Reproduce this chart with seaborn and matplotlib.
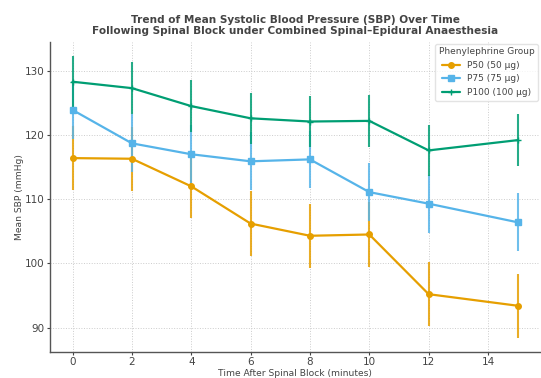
import numpy as np
import pandas as pd
import matplotlib
matplotlib.use("Agg")
import matplotlib.pyplot as plt
import seaborn as sns

# Mean SBP (mmHg) and SD-like error per time point
time_min = [0, 2, 4, 6, 8, 10, 12, 15]
groups = ["P50 (50 μg)", "P75 (75 μg)", "P100 (100 μg)"]
p50_mean = [116.4, 116.3, 112.0, 106.2, 104.3, 104.5, 95.2, 93.4]
p75_mean = [123.9, 118.7, 117.0, 115.9, 116.2, 111.1, 109.3, 106.4]
p100_mean = [128.3, 127.3, 124.5, 122.6, 122.1, 122.2, 117.6, 119.2]
p50_err = [5.0, 5.0, 5.0, 5.0, 5.0, 5.0, 5.0, 5.0]
p75_err = [4.5, 4.5, 4.5, 4.5, 4.5, 4.5, 4.5, 4.5]
p100_err = [4.0, 4.0, 4.0, 4.0, 4.0, 4.0, 4.0, 4.0]

colors = ["#E69F00", "#56B4E9", "#009E73"]
markers = ["o", "s", "+"]

sns.set_theme(style="ticks")
plt.rcParams["text.color"] = "#444444"
plt.rcParams["axes.labelcolor"] = "#444444"
plt.rcParams["xtick.color"] = "#444444"
plt.rcParams["ytick.color"] = "#444444"

fig, ax = plt.subplots(figsize=(5.41, 3.78), dpi=100)

means = [p50_mean, p75_mean, p100_mean]
errs = [p50_err, p75_err, p100_err]
for name, m, e, c, mk in zip(groups, means, errs, colors, markers):
    df = pd.DataFrame({"time": time_min, "sbp": m})
    ax.errorbar(time_min, m, yerr=e, fmt="none", ecolor=c, elinewidth=1.5,
                alpha=0.85, zorder=2)
    sns.lineplot(data=df, x="time", y="sbp", ax=ax, color=c, marker=mk,
                 markersize=4, markeredgecolor=c, markeredgewidth=1.0,
                 linewidth=1.6, label=name, zorder=3)

ax.set_title("Trend of Mean Systolic Blood Pressure (SBP) Over Time\n"
             "Following Spinal Block under Combined Spinal\u2013Epidural Anaesthesia",
             fontsize=7.6, fontweight="bold", color="#444444", linespacing=1.1)
ax.set_xlabel("Time After Spinal Block (minutes)", fontsize=6.6, labelpad=1)
ax.set_ylabel("Mean SBP (mmHg)", fontsize=6.6, labelpad=1)
ax.set_xticks([0, 2, 4, 6, 8, 10, 12, 14])
ax.set_yticks([90, 100, 110, 120, 130])
ax.tick_params(labelsize=7.5, length=2.5, width=0.8, pad=1.5)
ax.grid(True, linestyle=":", linewidth=0.7, color="#cccccc")
sns.despine(ax=ax)
for s in ["left", "bottom"]:
    ax.spines[s].set_color("#555555")
    ax.spines[s].set_linewidth(1.0)

leg = ax.legend(title="Phenylephrine Group", loc="upper right", fontsize=6.5,
                title_fontsize=6.5, frameon=True, borderaxespad=0.2)
leg.get_frame().set_edgecolor("#dddddd")

fig.subplots_adjust(left=0.093, right=0.998, bottom=0.069, top=0.889)
plt.savefig("out.png", dpi=100)
